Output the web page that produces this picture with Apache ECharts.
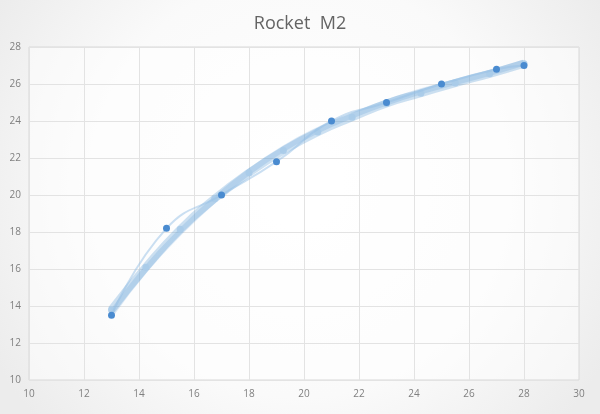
<!DOCTYPE html>
<html><head><meta charset="utf-8">
<script src="https://cdn.jsdelivr.net/npm/echarts@6/dist/echarts.min.js"></script>
<style>html,body{margin:0;padding:0;}#c{width:600px;height:414px;}</style>
</head><body><div id="c"></div>
<script>
var titleText = 'Rocket  M2';
var mainX = [13, 15, 17, 19, 21, 23, 25, 27, 28];
var mainY = [13.5, 18.2, 20, 21.8, 24, 25, 26, 26.8, 27];
var fitX = [13, 14.25, 15.5, 16.75, 18, 19.25, 20.5, 21.75, 23, 24.25, 25.5, 26.75, 28];
var fitY = [13.8, 16.1, 18.15, 19.8, 21.2, 22.4, 23.4, 24.2, 24.95, 25.5, 26.05, 26.55, 27.1];
var fit2Y = [13.6, 16.0, 18.0, 19.75, 21.25, 22.5, 23.5, 24.3, 25.0, 25.6, 26.1, 26.6, 27.15];

function pairs(xs, ys){ return xs.map(function(x,i){return [x, ys[i]];}); }

var chart = echarts.init(document.getElementById('c'));
chart.setOption({
  backgroundColor: {type:'radial', x:0.5, y:0.45, r:0.85, colorStops:[{offset:0,color:'#ffffff'},{offset:0.6,color:'#fafafa'},{offset:1,color:'#ececec'}]},
  title: {text: titleText, left: 'center', top: 10, textStyle:{fontFamily:'Open Sans', fontSize:18, fontWeight:'normal', color:'#646464'}},
  grid: {left: 29, right: 21, top: 47, bottom: 34, show: true, borderColor:'#d9d9d9', borderWidth:1, backgroundColor:'rgba(255,255,255,0.5)'},
  xAxis: {type:'value', min:10, max:30, interval:2,
    axisLine:{show:false}, axisTick:{show:false},
    axisLabel:{color:'#808080', fontSize:10, fontFamily:'Open Sans', margin:9},
    splitLine:{show:true, lineStyle:{color:'#e3e3e3', width:1}}},
  yAxis: {type:'value', min:10, max:28, interval:2,
    axisLine:{show:false}, axisTick:{show:false},
    axisLabel:{color:'#808080', fontSize:10, fontFamily:'Open Sans', margin:8},
    splitLine:{show:true, lineStyle:{color:'#e3e3e3', width:1}}},
  series: [
    {type:'line', data: pairs(fitX, fit2Y), smooth:true, symbol:'none',
     lineStyle:{color:'rgba(91,155,213,0.22)', width:6}, z:1, silent:true},
    {type:'line', data: pairs(fitX, fitY), smooth:true, symbol:'circle', symbolSize:7,
     itemStyle:{color:'rgba(170,203,233,0.95)'},
     lineStyle:{color:'rgba(91,155,213,0.3)', width:8}, z:2, silent:true},
    {type:'line', data: pairs(mainX, mainY), smooth:true, symbol:'circle', symbolSize:7,
     itemStyle:{color:'#4a8bd0'},
     lineStyle:{color:'rgba(150,192,230,0.5)', width:2}, z:3, silent:true}
  ]
});
</script>
</body></html>
